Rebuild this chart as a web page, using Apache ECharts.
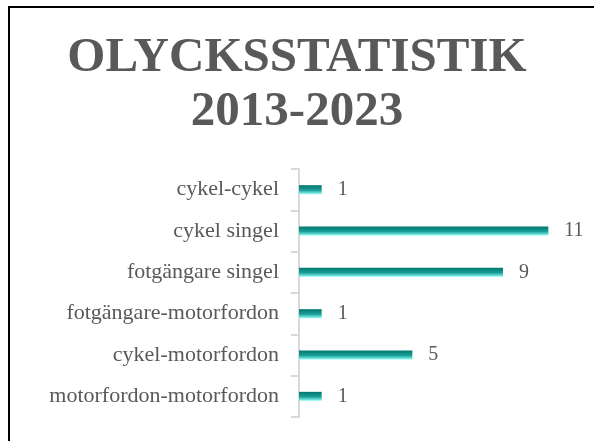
<!DOCTYPE html>
<html><head><meta charset="utf-8">
<script src="https://cdn.jsdelivr.net/npm/echarts@6/dist/echarts.min.js"></script>
<style>html,body{margin:0;padding:0;background:#fff}#c{width:594px;height:441px}</style>
</head><body><div id="c"></div>
<script>
const titleText = 'OLYCKSSTATISTIK\n2013-2023';
const categories = ['cykel-cykel','cykel singel','fotgängare singel','fotgängare-motorfordon','cykel-motorfordon','motorfordon-motorfordon'];
const values = [1, 11, 9, 1, 5, 1];

const chart = echarts.init(document.getElementById('c'));
chart.setOption({
  animation: false,
  backgroundColor: '#fff',
  graphic: [{type:'rect', shape:{x:9,y:7,width:700,height:600}, style:{fill:'none', stroke:'#000', lineWidth:2}, silent:true}],
  title: {
    text: titleText, left: 'center', top: 26,
    textStyle: {fontFamily:'Liberation Serif', fontWeight:'bold', fontSize:49, lineHeight:54, color:'#595959'}
  },
  grid: {left: 299, right: 23, top: 169, bottom: 24},
  xAxis: {type:'value', min:0, max:12, show:false},
  yAxis: {
    type:'category', data: categories, inverse: true,
    axisLine: {show:true, lineStyle:{color:'#d9d9d9', width:2}},
    axisTick: {show:true, length:8, lineStyle:{color:'#d9d9d9', width:2}},
    axisLabel: {margin:20, fontFamily:'Liberation Serif', fontSize:22, color:'#595959'}
  },
  series: [{
    type:'bar', data: values, barWidth: 9,
    itemStyle: {color: new echarts.graphic.LinearGradient(0,0,0,1,[
      {offset:0, color:'#00776f'}, {offset:0.55, color:'#1a9e96'}, {offset:1, color:'#8ffff8'}])},
    label: {show:true, position:'right', distance:16, fontFamily:'Liberation Serif', fontSize:20, color:'#595959'}
  }]
});
</script></body></html>
